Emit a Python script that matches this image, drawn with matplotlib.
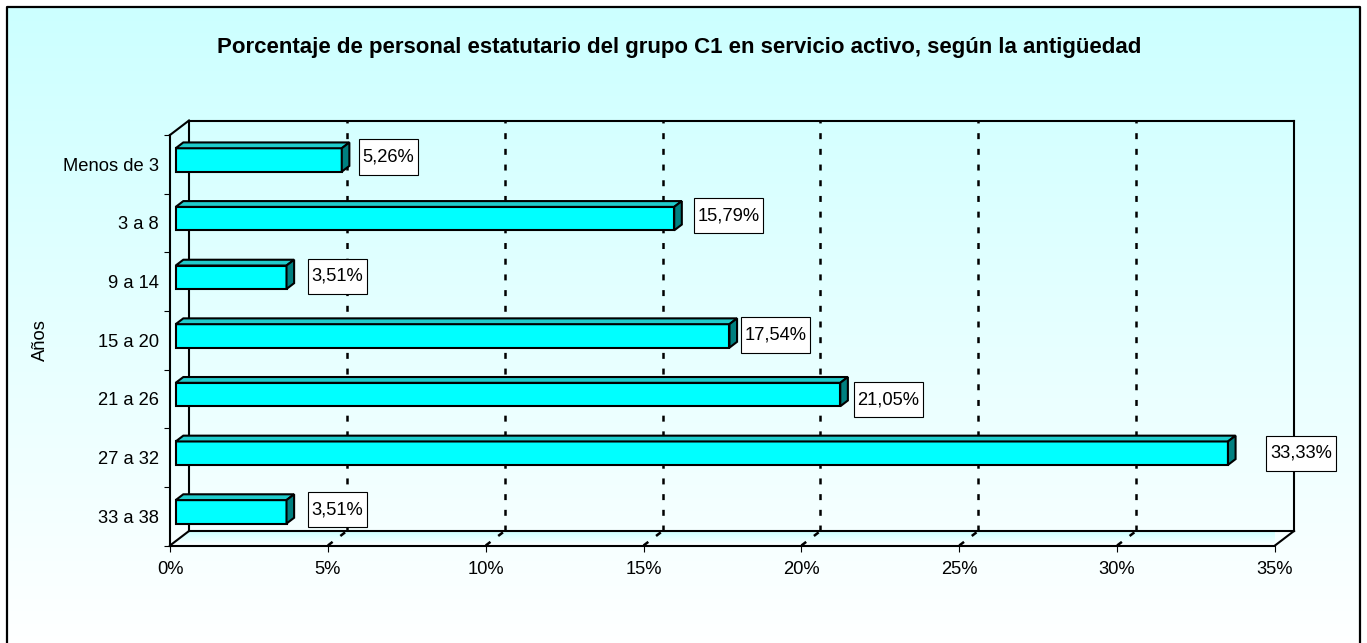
import matplotlib.pyplot as plt
import numpy as np
from matplotlib.patches import Polygon, Rectangle
from matplotlib.path import Path
from matplotlib.colors import LinearSegmentedColormap

plt.rcParams['font.family'] = ['Liberation Sans', 'DejaVu Sans']
plt.rcParams['lines.scale_dashes'] = False

categorias = ['Menos de 3', '3 a 8', '9 a 14', '15 a 20', '21 a 26', '27 a 32', '33 a 38']
porcentajes = [5.26, 15.79, 3.51, 17.54, 21.05, 33.33, 3.51]
x_ticks = [0, 5, 10, 15, 20, 25, 30, 35]
titulo = 'Porcentaje de personal estatutario del grupo C1 en servicio activo, según la antigüedad'

# small nudges (px) of the value boxes, as they sit in the original
label_dx = [18, 20, 22, 12, 14, 39, 22]
label_dy = [3, 3, 1, 1, -5, 0, 2]

W, H = 1367, 643
fig = plt.figure(figsize=(W / 100, H / 100), dpi=100)

# background with gradient and frame
bg = fig.add_axes([0, 0, 1, 1])
bg.set_xlim(0, W)
bg.set_ylim(H, 0)
bg.axis('off')
grad = np.linspace(0, 1, 256).reshape(-1, 1)
cmap_bg = LinearSegmentedColormap.from_list('bg', ['#CCFFFF', '#FFFFFF'])
bg.imshow(grad, cmap=cmap_bg, extent=(7, 1360, 650, 7), aspect='auto')
bg.plot([7, 7, 1360, 1360], [660, 7, 7, 660], color='black', lw=1.6)
bg.set_xlim(0, W)
bg.set_ylim(H, 0)

# plot area (front plane)
left, right, bottom, top = 170, 1275, 545.5, 135
ax = fig.add_axes([left / W, 1 - bottom / H, (right - left) / W, (bottom - top) / H])
ax.set_facecolor('none')
xmax = x_ticks[-1]
n = len(categorias)
sx = (right - left) / xmax
sy = (bottom - top) / n
dx = 19 / sx       # depth offset in data units
dy = 14.5 / sy
lw = 1.5

# floor
floor = Polygon([(0, 0), (xmax, 0), (xmax + dx, dy), (dx, dy)], closed=True,
                facecolor='none', edgecolor='none')
ax.add_patch(floor)
cmap_floor = LinearSegmentedColormap.from_list('fl', ['#CCFFFF', '#FFFFFF'])
im = ax.imshow(grad, cmap=cmap_floor, extent=(0, xmax + dx, 0, dy), aspect='auto', zorder=0)
im.set_clip_path(floor)

# walls outline
k = dict(color='black', lw=lw, clip_on=False, solid_capstyle='projecting')
ax.plot([dx, xmax + dx], [n + dy, n + dy], **k)
ax.plot([xmax + dx, xmax + dx], [dy, n + dy], **k)
ax.plot([dx, dx], [dy, n + dy], **k)
ax.plot([dx, xmax + dx], [dy, dy], **k)
ax.plot([0, dx], [n, n + dy], **k)
ax.plot([0, dx], [0, dy], **k)
ax.plot([xmax, xmax + dx], [0, dy], **k)

# dashed gridlines on back wall and floor
for t in x_ticks[1:-1]:
    ax.plot([t + dx, t + dx], [dy, n + dy], color='black', lw=1.8,
            ls=(0, (4.3, 7)), clip_on=False)
    ax.plot([t, t + dx], [0, dy], color='black', lw=1.8,
            ls=(0, (4.3, 7)), clip_on=False)

# 3D bars
d1, d2 = 0.3, 0.7
h = 0.4
for i, v in enumerate(porcentajes):
    c = n - i - 0.5
    x0, y0 = d1 * dx, c - h / 2 + d1 * dy
    ox, oy = (d2 - d1) * dx, (d2 - d1) * dy
    ax.add_patch(Rectangle((x0, y0), v, h, facecolor='#00FFFF',
                           edgecolor='black', lw=lw, zorder=3, clip_on=False))
    ax.add_patch(Polygon([(x0, y0 + h), (x0 + v, y0 + h), (x0 + v + ox, y0 + h + oy),
                          (x0 + ox, y0 + h + oy)], closed=True, facecolor='#20CCCC',
                         edgecolor='black', lw=lw, zorder=3, clip_on=False))
    ax.add_patch(Polygon([(x0 + v, y0), (x0 + v + ox, y0 + oy), (x0 + v + ox, y0 + h + oy),
                          (x0 + v, y0 + h)], closed=True, facecolor='#008080',
                         edgecolor='black', lw=lw, zorder=3, clip_on=False))


def label_box(x0, y0, width, height, mutation_size):
    px = 0.2 * mutation_size
    py = 0.5 * mutation_size
    x0, y0 = x0 - px, y0 - py
    x1, y1 = x0 + width + 2 * px, y0 + height + 2 * py
    return Path([(x0, y0), (x1, y0), (x1, y1), (x0, y1), (x0, y0)], closed=True)


fs = 13.2
pt = 100 / 72
for i, v in enumerate(porcentajes):
    c = n - i - 0.5
    txt = ('%.2f%%' % v).replace('.', ',')
    ax.annotate(txt, xy=(v + d1 * dx, c + d1 * dy),
                xytext=((label_dx[i] + 3) / pt, label_dy[i] / pt), textcoords='offset points',
                ha='left', va='center', fontsize=fs, zorder=5, annotation_clip=False,
                bbox=dict(boxstyle=label_box, facecolor='white', edgecolor='black', lw=0.8))

# axes, ticks, labels
ax.set_xlim(0, xmax)
ax.set_ylim(0, n)
for s in ['top', 'right']:
    ax.spines[s].set_visible(False)
for s in ['left', 'bottom']:
    ax.spines[s].set_linewidth(lw)
ax.set_xticks(x_ticks)
ax.set_xticklabels(['%d%%' % t for t in x_ticks])
ax.tick_params(axis='x', length=4, width=0.8, pad=7, labelsize=fs)
ax.set_yticks([n - i - 0.5 for i in range(n)])
ax.set_yticklabels(categorias)
ax.set_yticks(range(n + 1), minor=True)
ax.tick_params(axis='y', which='major', length=0, pad=8, labelsize=fs)
ax.tick_params(axis='y', which='minor', length=4, width=0.8)
ax.set_ylabel('Años', fontsize=fs)
ax.yaxis.set_label_coords((49 - left) / (right - left), 0.5)

fig.text(679.5 / W, 1 - 47 / H, titulo, ha='center', va='center',
         fontsize=16, fontweight='bold')

fig.savefig('out.png', dpi=100)
